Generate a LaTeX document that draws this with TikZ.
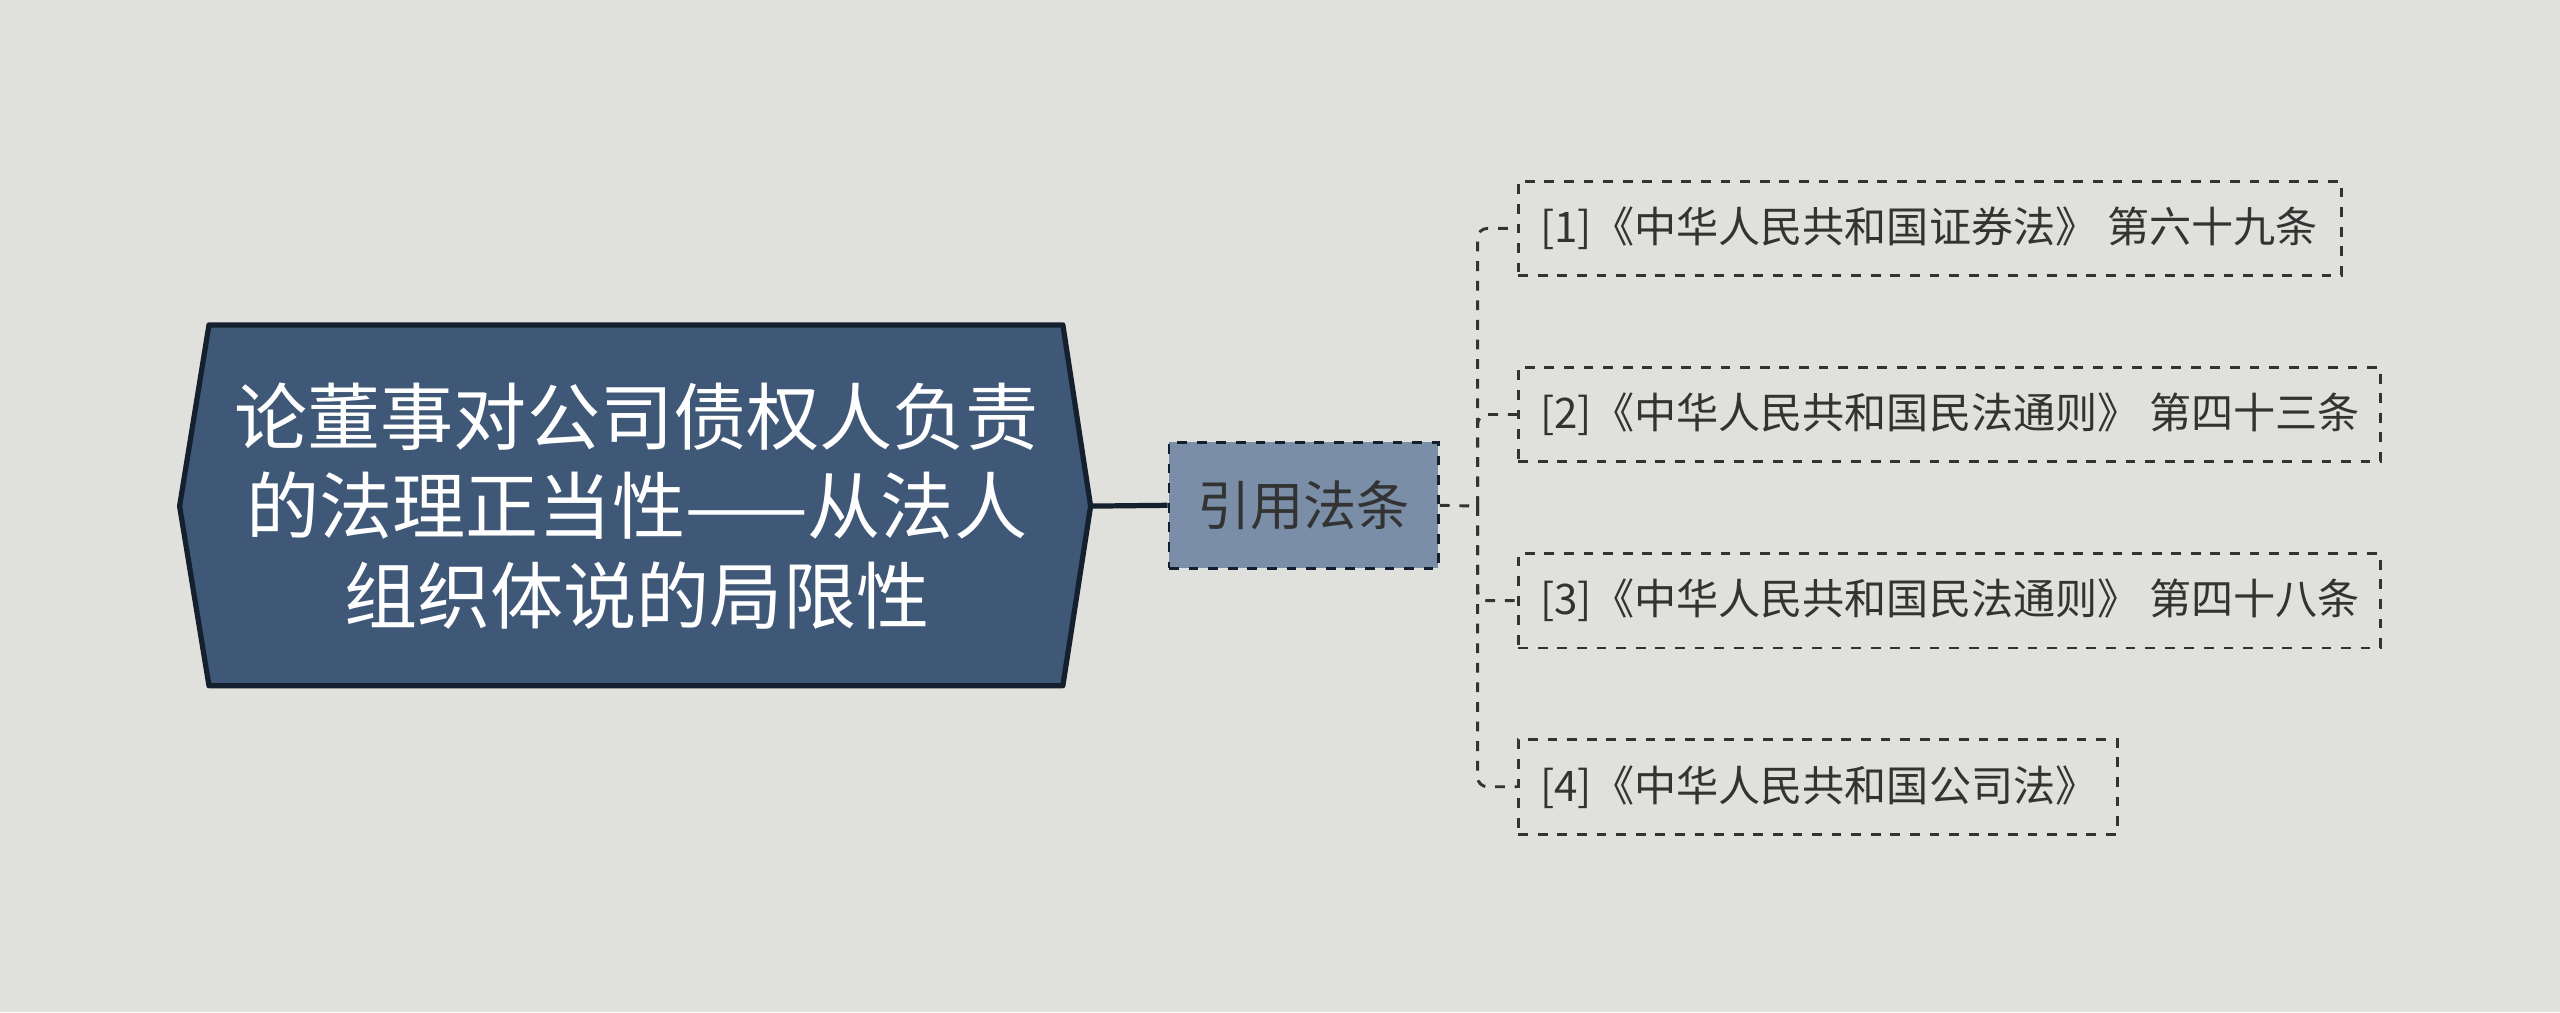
\documentclass[tikz,border=0pt]{standalone}
\usepackage{fontspec}
\setmainfont{Noto Sans CJK SC}
\definecolor{bg}{HTML}{E0E1DC}
\definecolor{mainfill}{HTML}{3F5877}
\definecolor{mainborder}{HTML}{15202E}
\definecolor{midfill}{HTML}{7A8EA8}
\definecolor{txt}{HTML}{333333}
\begin{document}
\begin{tikzpicture}[x=0.5pt,y=-0.5pt,
  leaf/.style={draw=txt,dashed,line width=0.9pt,rectangle,anchor=north west,inner sep=0pt},
  leaftext/.style={anchor=west,text=txt,font=\fontsize{12.9}{14}\selectfont,inner sep=0pt},
  link/.style={draw=txt,dashed,line width=0.9pt}]
\fill[bg] (0,0) rectangle (1568,620);
\useasboundingbox (0,0) rectangle (1568,620);
% main node
\draw[fill=mainfill,draw=mainborder,line width=1.6pt,line join=round]
  (128,199) -- (651,199) -- (668,310) -- (651,420) -- (128,420) -- (110,310) -- cycle;
\node (main) at (390,310) [text=white,align=center,font=\fontsize{22.4}{27.5}\selectfont]
  {论董事对公司债权人负责\\的法理正当性——从法人\\组织体说的局限性};
\coordinate (mainR) at (668,310);
% middle
\node (mid) [draw=mainborder,dashed,fill=midfill,line width=0.9pt,minimum width=82.5pt,minimum height=38.5pt,
  text=txt,font=\fontsize{16.3}{18}\selectfont] at (798.5,309.5) {引用法条};
\draw[mainborder,line width=1.6pt] (mainR) -- (mid.west);
\coordinate (j) at (905,310);
\draw[link] (mid.east) -- (j);
% leaves
\node (b1) [leaf,minimum width=252pt,minimum height=29pt] at (929,110) {};
\node (b2) [leaf,minimum width=264pt,minimum height=29pt] at (929,224) {};
\node (b3) [leaf,minimum width=264pt,minimum height=29pt] at (929,338) {};
\node (b4) [leaf,minimum width=183.5pt,minimum height=29pt] at (929,452) {};
\node[leaftext] at ([xshift=7pt]b1.west) {[1]《中华人民共和国证券法》 第六十九条};
\node[leaftext] at ([xshift=7pt]b2.west) {[2]《中华人民共和国民法通则》 第四十三条};
\node[leaftext] at ([xshift=7pt]b3.west) {[3]《中华人民共和国民法通则》 第四十八条};
\node[leaftext] at ([xshift=7pt]b4.west) {[4]《中华人民共和国公司法》};
\foreach \b in {b1,b2,b3,b4}
  \draw[link,rounded corners=3pt] (j) |- (\b.west);
\end{tikzpicture}
\end{document}
